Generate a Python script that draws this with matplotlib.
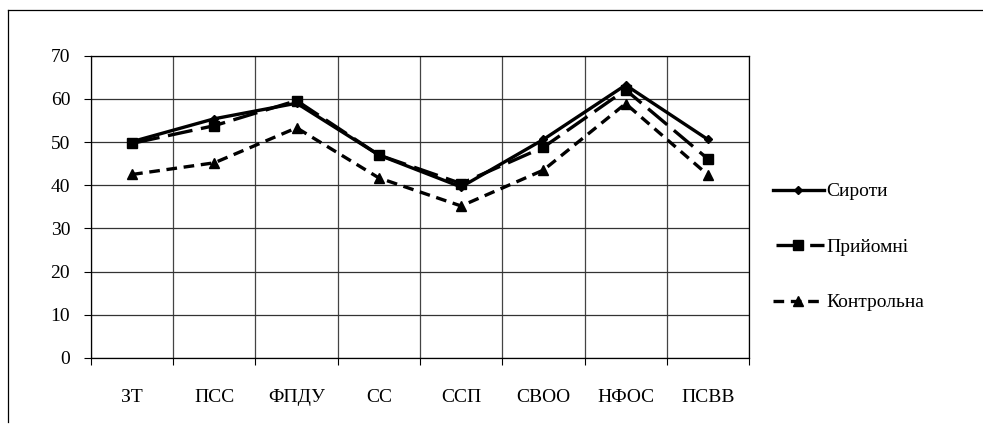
import numpy as np
import matplotlib.pyplot as plt
from matplotlib.lines import Line2D

plt.rcParams['font.family'] = ['Liberation Serif', 'DejaVu Serif']

# Дані з графіка
categories = ['ЗТ', 'ПСС', 'ФПДУ', 'СС', 'ССП', 'СВОО', 'НФОС', 'ПСВВ']
syroty = [50.1, 55.4, 59.0, 47.0, 39.6, 50.6, 63.2, 50.6]
pryiomni = [49.7, 53.8, 59.6, 47.0, 40.4, 48.8, 62.1, 46.1]
kontrolna = [42.5, 45.2, 53.3, 41.7, 35.2, 43.5, 58.9, 42.4]
y_ticks = [0, 10, 20, 30, 40, 50, 60, 70]

fig = plt.figure(figsize=(9.83, 4.26), dpi=100)
ax = fig.add_axes([91 / 983, 1 - 358 / 426, (749 - 91) / 983, (358 - 55.7) / 426])

x = np.arange(len(categories))

ax.plot(x, syroty, color='black', lw=2.4, marker='D', markersize=4.5,
        label='Сироти')
ax.plot(x, pryiomni, color='black', lw=2.4, marker='s', markersize=7,
        linestyle=(9.2, (7.5, 2.6)), label='Прийомні')
ax.plot(x, kontrolna, color='black', lw=2.4, marker='^', markersize=7,
        dashes=(3.2, 2.0), label='Контрольна')

ax.set_xlim(-0.5, len(categories) - 0.5)
ax.set_ylim(0, 70)
ax.set_yticks(y_ticks)
ax.set_xticks(x)
ax.set_xticklabels(categories)
ax.set_xticks(np.arange(-0.5, len(categories), 1.0), minor=True)

ax.grid(True, axis='y', color='#333333', lw=0.9)
ax.grid(True, axis='x', which='minor', color='#444444', lw=0.9)
ax.set_axisbelow(True)

ax.tick_params(axis='x', which='major', length=0, pad=22, labelsize=14)
ax.tick_params(axis='x', which='minor', length=5, direction='out', width=0.8)
ax.tick_params(axis='y', length=5, direction='out', width=0.8, pad=10,
               labelsize=14)

for s in ax.spines.values():
    s.set_color('black')
    s.set_linewidth(0.9)

ax.legend(loc='center left', bbox_to_anchor=(1.01, 0.367), frameon=False,
          fontsize=14, handlelength=2.6, handletextpad=0.15,
          labelspacing=1.95)

# рамка навколо діаграми
fig.add_artist(Line2D([8 / 983, 1], [1 - 10 / 426, 1 - 10 / 426],
                      color='black', lw=0.9, transform=fig.transFigure))
fig.add_artist(Line2D([8 / 983, 8 / 983], [1 - 10 / 426, 1 - 422 / 426],
                      color='black', lw=0.9, transform=fig.transFigure))

plt.savefig('out.png', dpi=100)
